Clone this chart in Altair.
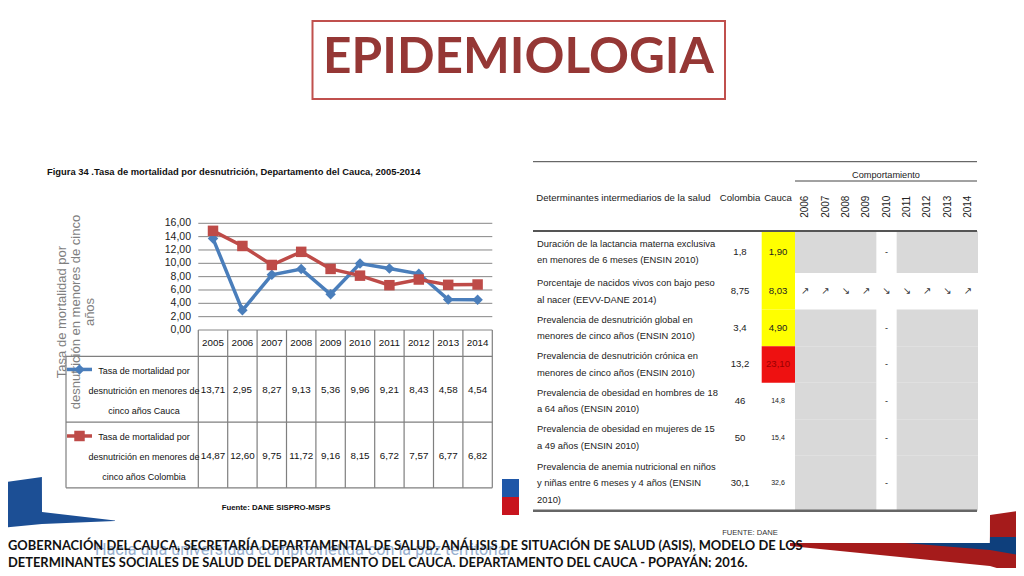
import altair as alt
import pandas as pd

# ---------------- data ----------------
years = [2005, 2006, 2007, 2008, 2009, 2010, 2011, 2012, 2013, 2014]
cauca = [13.71, 2.95, 8.27, 9.13, 5.36, 9.96, 9.21, 8.43, 4.58, 4.54]
colombia = [14.87, 12.60, 9.75, 11.72, 9.16, 8.15, 6.72, 7.57, 6.77, 6.82]
series_names = ["Cauca", "Colombia"]
series_labels = [
    ["Tasa de mortalidad por", "desnutrición en menores de", "cinco años Cauca"],
    ["Tasa de mortalidad por", "desnutrición en menores de", "cinco años Colombia"],
]
y_ticks = [0, 2, 4, 6, 8, 10, 12, 14, 16]
y_tick_labels = ["0,00", "2,00", "4,00", "6,00", "8,00", "10,00", "12,00", "14,00", "16,00"]

det_labels = [
    ["Duración de la lactancia materna exclusiva", "en menores de 6 meses (ENSIN 2010)"],
    ["Porcentaje de nacidos vivos con bajo peso", "al nacer (EEVV-DANE 2014)"],
    ["Prevalencia de desnutrición global en", "menores de cinco años (ENSIN 2010)"],
    ["Prevalencia de desnutrición crónica en", "menores de cinco años (ENSIN 2010)"],
    ["Prevalencia de obesidad en hombres de 18", "a 64 años (ENSIN 2010)"],
    ["Prevalencia de obesidad en mujeres de 15", "a 49 años (ENSIN 2010)"],
    ["Prevalencia de anemia nutricional en niños", "y niñas entre 6 meses y 4 años (ENSIN", "2010)"],
]
det_colombia = ["1,8", "8,75", "3,4", "13,2", "46", "50", "30,1"]
det_cauca = ["1,90", "8,03", "4,90", "23,10", "14,8", "15,4", "32,6"]
det_flag = ["yellow", "yellow", "yellow", "red", "none", "none", "none"]
trend_years = [2006, 2007, 2008, 2009, 2010, 2011, 2012, 2013, 2014]
trend_arrows = ["↗", "↗", "↘", "↗", "↘", "↘", "↗", "↘", "↗"]
trend_row = 1

title_text = "EPIDEMIOLOGIA"
fig_title = "Figura 34 .Tasa de mortalidad por desnutrición, Departamento del Cauca, 2005-2014"
y_title = ["Tasa de mortalidad por", "desnutrición en menores de cinco", "años"]
fuente_left = "Fuente: DANE SISPRO-MSPS"
fuente_right = "FUENTE: DANE"
cite = [
    "GOBERNACIÓN DEL CAUCA, SECRETARÍA DEPARTAMENTAL DE SALUD. ANÁLISIS DE SITUACIÓN DE SALUD (ASIS), MODELO DE LOS",
    "DETERMINANTES SOCIALES DE SALUD DEL DEPARTAMENTO DEL CAUCA. DEPARTAMENTO DEL CAUCA -  POPAYÁN; 2016.",
]
slogan = "Hacia una universidad comprometida con la paz territorial"

# ---------------- layout / style ----------------
OFF = 8
def px(v):
    return v - OFF

NARROW = "'Liberation Sans', Arial, sans-serif"
SANS = "'Liberation Sans', Arial, sans-serif"
HUM = "Lato, 'Open Sans', sans-serif"
BLUE = "#4a7ebb"
RED = "#be4b48"
GRID = "#868686"

ONE = pd.DataFrame({"k": [0]})

def txt(s, x, y, **kw):
    return alt.Chart(ONE).mark_text(text=s, **kw).encode(x=alt.value(px(x)), y=alt.value(px(y)))

def hrule(y, x1, x2, color="#555", w=1):
    return alt.Chart(ONE).mark_rule(color=color, strokeWidth=w).encode(
        x=alt.value(px(x1)), x2=alt.value(px(x2)), y=alt.value(px(y)))

def box(x1, x2, y1, y2, **kw):
    return alt.Chart(ONE).mark_rect(**kw).encode(
        x=alt.value(px(x1)), x2=alt.value(px(x2)), y=alt.value(px(y1)), y2=alt.value(px(y2)))

layers = []

# ---- decorative swooshes (slide coordinate scale) ----
deco_x = alt.Scale(domain=[0, 1024], range=[px(0), px(1024)], nice=False, zero=False)
deco_y = alt.Scale(domain=[0, 576], range=[px(0), px(576)], nice=False, zero=False)
shapes = {
    "blue_left": ("#1c4f95", [0, 41.9, 42, 115], [483, 477, 512, 520.5], [528, 524, 524, 521]),
    "red_right": ("#a51b1b", [790, 989.9, 990, 1024], [543, 543, 515, 510], [546, 566, 566, 576]),
    "blue_right": ("#0e3f7c", [905, 989.9, 990, 1024], [543, 543, 537, 537], [543, 550, 550, 556]),
}
for name, (col, xs, ys, y2s) in shapes.items():
    d = pd.DataFrame({"x": xs, "y": ys, "y2": y2s})
    layers.append(alt.Chart(d).mark_area(color=col, opacity=1).encode(
        x=alt.X("x:Q", scale=deco_x, axis=None),
        y=alt.Y("y:Q", scale=deco_y, axis=None),
        y2="y2:Q"))
# small flag
layers.append(box(502, 519, 479, 497, color="#1f57a8"))
layers.append(box(502, 519, 497, 515, color="#c8141e"))

# ---- title box ----
layers.append(box(312.5, 725, 21, 99, fill="white", stroke="#c0504d", strokeWidth=2))
layers.append(txt(title_text, 518.5, 58, font=HUM, fontWeight="bold", fontSize=49.5,
                  color="#953735", align="center", baseline="middle"))

# ---- left figure ----
layers.append(txt(fig_title, 47, 172, font=NARROW, fontWeight="bold", fontSize=9.4,
                  color="#111", align="left", baseline="middle"))
layers.append(txt(y_title, 62, 312, font=SANS, fontSize=13, color="#7f7f7f", angle=270,
                  align="center", baseline="middle", lineHeight=14))

x_year = alt.Scale(domain=[2004.5, 2014.5], range=[px(198.3), px(492.3)], nice=False, zero=False)
y_val = alt.Scale(domain=[0, 16], range=[px(330), px(223.3)], nice=False, zero=False)
y_tab = alt.Scale(domain=[0, 6], range=[px(330), px(487.8)], nice=False, zero=False)

ticks_df = pd.DataFrame({"v": y_ticks, "lab": y_tick_labels})
layers.append(alt.Chart(ticks_df).mark_rule(color=GRID, strokeWidth=1).encode(
    y=alt.Y("v:Q", scale=y_val, axis=None), x=alt.value(px(198.3)), x2=alt.value(px(492.3))))
layers.append(alt.Chart(ticks_df).mark_text(align="right", baseline="middle", font=NARROW,
                                            fontSize=10.5, color="#222").encode(
    y=alt.Y("v:Q", scale=y_val, axis=None), x=alt.value(px(191)), text="lab:N"))

long_df = pd.DataFrame({
    "year": years + years,
    "value": cauca + colombia,
    "series": [series_names[0]] * len(years) + [series_names[1]] * len(years),
    "order": list(range(len(years))) * 2,
})
cscale = alt.Scale(domain=series_names, range=[BLUE, RED])
sscale = alt.Scale(domain=series_names, range=["diamond", "square"])
layers.append(alt.Chart(long_df).mark_line(strokeWidth=3.5).encode(
    x=alt.X("year:Q", scale=x_year, axis=None),
    y=alt.Y("value:Q", scale=y_val, axis=None),
    color=alt.Color("series:N", scale=cscale, legend=None),
    order="order:Q"))
layers.append(alt.Chart(long_df).mark_point(filled=True, opacity=1, size=110).encode(
    x=alt.X("year:Q", scale=x_year, axis=None),
    y=alt.Y("value:Q", scale=y_val, axis=None),
    color=alt.Color("series:N", scale=cscale, legend=None),
    shape=alt.Shape("series:N", scale=sscale, legend=None)))

# data table under the chart
TB = "#7f7f7f"
hr_df = pd.DataFrame({"r": [1, 3.5, 6]})
layers.append(alt.Chart(hr_df).mark_rule(color=TB, strokeWidth=1.2).encode(
    y=alt.Y("r:Q", scale=y_tab, axis=None), x=alt.value(px(66)), x2=alt.value(px(492.3))))
vr_df = pd.DataFrame({"b": [y - 0.5 for y in years] + [years[-1] + 0.5]})
layers.append(alt.Chart(vr_df).mark_rule(color=TB, strokeWidth=1.2).encode(
    x=alt.X("b:Q", scale=x_year, axis=None), y=alt.value(px(330)), y2=alt.value(px(487.8))))
layers.append(alt.Chart(ONE).mark_rule(color=TB, strokeWidth=1.2).encode(
    x=alt.value(px(66)), y=alt.value(px(356.3)), y2=alt.value(px(487.8))))

yr_df = pd.DataFrame({"year": years, "lab": [str(y) for y in years], "r": [0.5] * len(years)})
layers.append(alt.Chart(yr_df).mark_text(font=NARROW, fontSize=9.8, color="#111", baseline="middle").encode(
    x=alt.X("year:Q", scale=x_year, axis=None), y=alt.Y("r:Q", scale=y_tab, axis=None), text="lab:N"))

fmt = lambda v: f"{v:.2f}".replace(".", ",")
val_df = pd.DataFrame({
    "year": years + years,
    "lab": [fmt(v) for v in cauca] + [fmt(v) for v in colombia],
    "r": [2.3] * len(years) + [4.8] * len(years),
})
layers.append(alt.Chart(val_df).mark_text(font=NARROW, fontSize=9.8, color="#111", baseline="middle").encode(
    x=alt.X("year:Q", scale=x_year, axis=None), y=alt.Y("r:Q", scale=y_tab, axis=None), text="lab:N"))

for i, name in enumerate(series_names):
    rfirst = 1.55 if i == 0 else 4.06
    layers.append(alt.Chart(ONE).mark_text(text=series_labels[i], font=NARROW, fontSize=9,
                                           color="#111", align="center", baseline="middle",
                                           lineHeight=20).encode(
        x=alt.value(px(144)), y=alt.Y("r:Q", scale=y_tab, axis=None)).transform_calculate(r=str(rfirst)))
leg_df = pd.DataFrame({"series": series_names, "r": [1.5, 4.03]})
layers.append(alt.Chart(leg_df).mark_rule(strokeWidth=3.5).encode(
    x=alt.value(px(67)), x2=alt.value(px(92)), y=alt.Y("r:Q", scale=y_tab, axis=None),
    color=alt.Color("series:N", scale=cscale, legend=None)))
layers.append(alt.Chart(leg_df).mark_point(filled=True, opacity=1, size=110).encode(
    x=alt.value(px(79.5)), y=alt.Y("r:Q", scale=y_tab, axis=None),
    color=alt.Color("series:N", scale=cscale, legend=None),
    shape=alt.Shape("series:N", scale=sscale, legend=None)))

layers.append(txt(fuente_left, 276, 508, font=NARROW, fontWeight="bold", fontSize=7.8,
                  color="#111", align="center", baseline="middle"))

# ---- right table ----
row_units = [1.15, 1, 1, 1, 1, 1, 1.5]
tops, acc = [], 0.0
for h in row_units:
    tops.append(acc)
    acc += h
R_TOP, R_BOT = 231, 510.7
unit_px = (R_BOT - R_TOP) / acc
ry = alt.Scale(domain=[0, acc], range=[px(R_TOP), px(R_BOT)], nice=False, zero=False)
rx = alt.Scale(domain=[2005.5, 2014.5], range=[px(795), px(978)], nice=False, zero=False)
LINE_H = 16.5

rows_df = pd.DataFrame({
    "i": list(range(len(det_labels))),
    "top": tops,
    "bot": [t + h for t, h in zip(tops, row_units)],
    "mid": [t + h / 2 for t, h in zip(tops, row_units)],
    "col": det_colombia,
    "cau": det_cauca,
    "flag": det_flag,
})
gray_df = rows_df[rows_df.i != trend_row]
rx0, rx1 = rx.range
for a, b in [(2005.5, 2009.5), (2010.5, 2014.5)]:
    layers.append(alt.Chart(gray_df).mark_rect(color="#d9d9d9").encode(
        x=alt.value(rx0 + (a - 2005.5) / 9 * (rx1 - rx0)),
        x2=alt.value(rx0 + (b - 2005.5) / 9 * (rx1 - rx0)),
        y=alt.Y("top:Q", scale=ry, axis=None), y2="bot:Q"))
flag_df = rows_df[rows_df.flag != "none"]
layers.append(alt.Chart(flag_df).mark_rect().encode(
    x=alt.value(px(761.7)), x2=alt.value(px(795)),
    y=alt.Y("top:Q", scale=ry, axis=None), y2="bot:Q",
    color=alt.Color("flag:N", scale=alt.Scale(domain=["yellow", "red"], range=["#ffff00", "#ee1111"]), legend=None)))

for _, row in rows_df.iterrows():
    lines = det_labels[int(row.i)]
    first = row.mid - (len(lines) - 1) * (LINE_H / 2) / unit_px
    layers.append(alt.Chart(ONE).mark_text(text=lines, font=NARROW, fontSize=9.4,
                                           color="#222", align="left", baseline="middle",
                                           lineHeight=LINE_H).encode(
        x=alt.value(px(537)), y=alt.Y("m:Q", scale=ry, axis=None)).transform_calculate(m=str(first)))

layers.append(alt.Chart(rows_df).mark_text(font=NARROW, fontSize=9.6, color="#222", baseline="middle").encode(
    x=alt.value(px(740)), y=alt.Y("mid:Q", scale=ry, axis=None), text="col:N"))
layers.append(alt.Chart(rows_df[rows_df.flag == "yellow"]).mark_text(font=NARROW, fontSize=9.6, color="#222", baseline="middle").encode(
    x=alt.value(px(778)), y=alt.Y("mid:Q", scale=ry, axis=None), text="cau:N"))
layers.append(alt.Chart(rows_df[rows_df.flag == "red"]).mark_text(font=NARROW, fontSize=9.6, color="#9b0000", baseline="middle").encode(
    x=alt.value(px(778)), y=alt.Y("mid:Q", scale=ry, axis=None), text="cau:N"))
layers.append(alt.Chart(rows_df[rows_df.flag == "none"]).mark_text(font=NARROW, fontSize=7, color="#222", baseline="middle").encode(
    x=alt.value(px(778)), y=alt.Y("mid:Q", scale=ry, axis=None), text="cau:N"))
dash_df = gray_df.assign(x=2010)
layers.append(alt.Chart(dash_df).mark_text(text="-", font=SANS, fontSize=9, color="#222", baseline="middle").encode(
    x=alt.X("x:Q", scale=rx, axis=None), y=alt.Y("mid:Q", scale=ry, axis=None)))
arrow_df = pd.DataFrame({"year": trend_years, "a": trend_arrows,
                         "mid": [rows_df.mid[trend_row]] * len(trend_years)})
layers.append(alt.Chart(arrow_df).mark_text(font="DejaVu Sans", fontSize=10, color="#333", baseline="middle").encode(
    x=alt.X("year:Q", scale=rx, axis=None), y=alt.Y("mid:Q", scale=ry, axis=None), text="a:N"))

# header
layers.append(hrule(161.7, 533, 977, color="#444", w=1))
layers.append(txt("Comportamiento", 886, 175, font=NARROW, fontSize=9.2, color="#222", align="center", baseline="middle"))
layers.append(hrule(181, 795, 977, color="#444", w=1))
layers.append(txt("Determinantes intermediarios de la salud", 623.5, 198, font=NARROW, fontSize=9.6, color="#222", align="center", baseline="middle"))
layers.append(txt("Colombia", 740, 198, font=NARROW, fontSize=9.6, color="#222", align="center", baseline="middle"))
layers.append(txt("Cauca", 778, 198, font=NARROW, fontSize=9.6, color="#222", align="center", baseline="middle"))
hy_df = pd.DataFrame({"year": trend_years, "lab": [str(y) for y in trend_years]})
layers.append(alt.Chart(hy_df).mark_text(font=NARROW, fontSize=10, color="#222", angle=270,
                                         align="center", baseline="middle").encode(
    x=alt.X("year:Q", scale=rx, axis=None), y=alt.value(px(206.7)), text="lab:N"))
layers.append(hrule(R_TOP, 533, 977, color="#555", w=2))
layers.append(hrule(R_BOT, 533, 977, color="#666", w=2.5))
layers.append(txt(fuente_right, 750, 533, font=NARROW, fontSize=7.6, color="#333", align="center", baseline="middle"))

# ---- footer ----
layers.append(txt(slogan, 95, 550, font="Roboto", fontSize=16.2, color="#98b0cf", align="left", baseline="middle"))
layers.append(txt(cite[0], 8, 546, font=HUM, fontWeight="bold", fontSize=12.9, color="#111", align="left", baseline="middle"))
layers.append(txt(cite[1], 8, 562.5, font=HUM, fontWeight="bold", fontSize=12.9, color="#111", align="left", baseline="middle"))

chart = alt.layer(*layers).resolve_scale(
    x="independent", y="independent", color="independent", shape="independent"
).properties(
    width=1008, height=560, autosize=alt.AutoSizeParams(type="none"), padding=0, background="white"
).configure_view(stroke=None)

chart.save("out.html", embed_options={"renderer": "svg", "actions": False})
